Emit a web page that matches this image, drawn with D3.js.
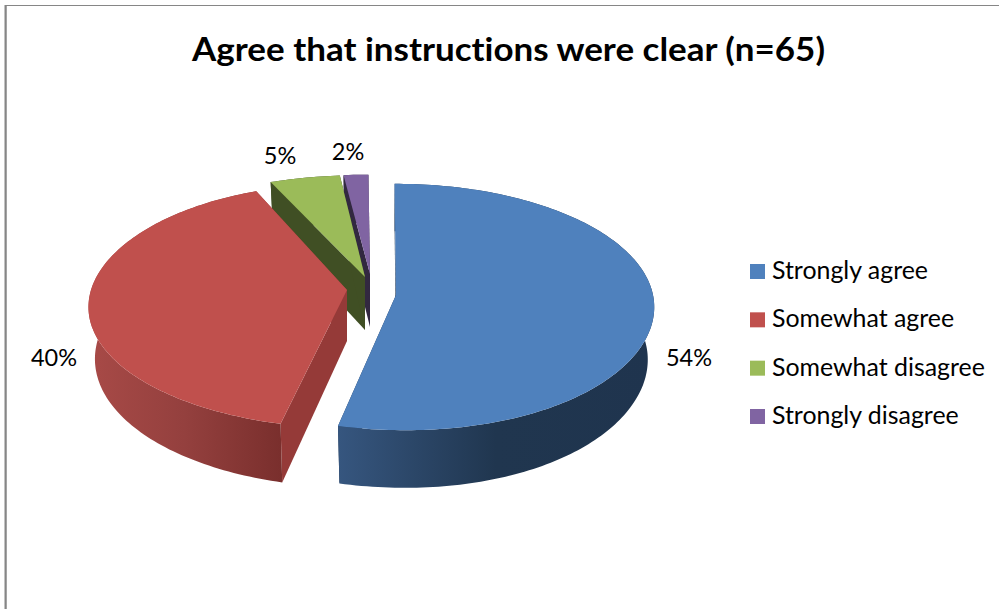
<!DOCTYPE html>
<html><head><meta charset="utf-8">
<script src="https://d3js.org/d3.v7.min.js"></script>
<style>html,body{margin:0;padding:0;background:#fff}svg{display:block}text{font-family:Lato,"Open Sans",sans-serif;fill:#000;font-variant-ligatures:none}</style>
</head><body><svg id="c" width="999" height="609"></svg>
<script>
const chartTitle = "Agree that instructions were clear (n=65)";
const categories = ["Strongly agree","Somewhat agree","Somewhat disagree","Strongly disagree"];
const counts = [35,26,3,1];
const labels = ["54%","40%","5%","2%"];
const topColors = ["#4F81BD","#C0504D","#9BBB59","#8064A2"];
const cutColors = ["#1F3552","#953A38","#404F24","#322840"];
const wallStops = [["#36567F","#20364F","#1F344E"],["#A84A47","#94403E","#7A2F2D"],["#404F24","#404F24","#404F24"],["#322840","#322840","#322840"]];
// layout only: exploded apex and 3-D look of every slice
const apexes = [[396,295],[347,290],[365,277],[370,274]];
const radiiX = [257,256,258,258];
const radiiY = [122,120,112,109];
const perspX = [0.0975,0.14,0.05,0];
const perspY = [0.0975,0.132,0.0975,0.0975];
const tiltFront = [9,3,0,0];
const tiltBack = [0,-5,0,0];
const depths = [52,51,53,53];
const labelPos = [[689,358],[54,358],[280,156],[348,152]];
const bottomScale=0.975;

const svg=d3.select("#c"), defs=svg.append("defs");
svg.append("path").attr("d","M6,609V5.5H999").attr("fill","none").attr("stroke","#868686").attr("stroke-width",1);
svg.append("line").attr("x1",5.5).attr("x2",5.5).attr("y1",5).attr("y2",609).attr("stroke","#868686").attr("stroke-width",2);

svg.append("text").attr("x",192).attr("y",61)
  .attr("font-size",32).attr("font-weight",700)
  .attr("textLength",633).attr("lengthAdjust","spacingAndGlyphs").text(chartTitle);

const arcs=d3.pie().sort(null).startAngle(-0.006).endAngle(2*Math.PI-0.006).value(d=>d)(counts);
function proj(i,th,low){
  const a=apexes[i], v=-Math.cos(th), sx=1/(1-perspX[i]*v), sy=1/(1-perspY[i]*v), f=low?bottomScale:1;
  const tilt=tiltFront[i]*Math.pow(Math.max(0,v),3)+tiltBack[i]*Math.pow(Math.max(0,-v),3);
  return [a[0]+(radiiX[i]*Math.sin(th)*sx+tilt)*f, a[1]+radiiY[i]*v*sy+(low?depths[i]*sy:0)];
}
const line=d3.line();
function arcPts(i,d,low){
  const n=Math.max(4,Math.ceil((d.endAngle-d.startAngle)/0.02));
  return d3.range(n+1).map(j=>proj(i,d.startAngle+(d.endAngle-d.startAngle)*j/n,low));
}
[3,2,1,0].forEach(i=>{
  const d=arcs[i],a=apexes[i],g=svg.append("g");
  const top=arcPts(i,d,false),bot=arcPts(i,d,true);
  const aLow=[a[0],a[1]+depths[i]];
  const xs=d3.extent(top,p=>p[0]);
  const id="w"+i;
  const lg=defs.append("linearGradient").attr("id",id).attr("gradientUnits","userSpaceOnUse")
    .attr("x1",xs[0]).attr("x2",xs[1]).attr("y1",0).attr("y2",0);
  wallStops[i].forEach((c,j)=>lg.append("stop").attr("offset",j/(wallStops[i].length-1)).attr("stop-color",c));
  [[top[0],bot[0]],[top[top.length-1],bot[bot.length-1]]].forEach(([p,q])=>{
    g.append("path").attr("d",line([a,p,q,aLow])+"Z").attr("fill",cutColors[i]);
  });
  g.append("path").attr("d",line(top.concat(bot.slice().reverse()))+"Z").attr("fill",`url(#${id})`);
  g.append("path").attr("d",line([a].concat(top))+"Z").attr("fill",topColors[i]);
});

labels.forEach((t,i)=>svg.append("text").attr("x",labelPos[i][0]).attr("y",labelPos[i][1]+7.5)
  .attr("text-anchor","middle").attr("font-size",23.5).text(t));

const ly=d3.scalePoint().domain(categories).range([271.5,416.5]);
categories.forEach((c,i)=>{
  svg.append("rect").attr("x",750).attr("y",ly(c)-7.5).attr("width",15).attr("height",15).attr("fill",topColors[i]);
  svg.append("text").attr("x",772).attr("y",ly(c)+7.5).attr("font-size",24.9).text(c);
});
</script></body></html>
